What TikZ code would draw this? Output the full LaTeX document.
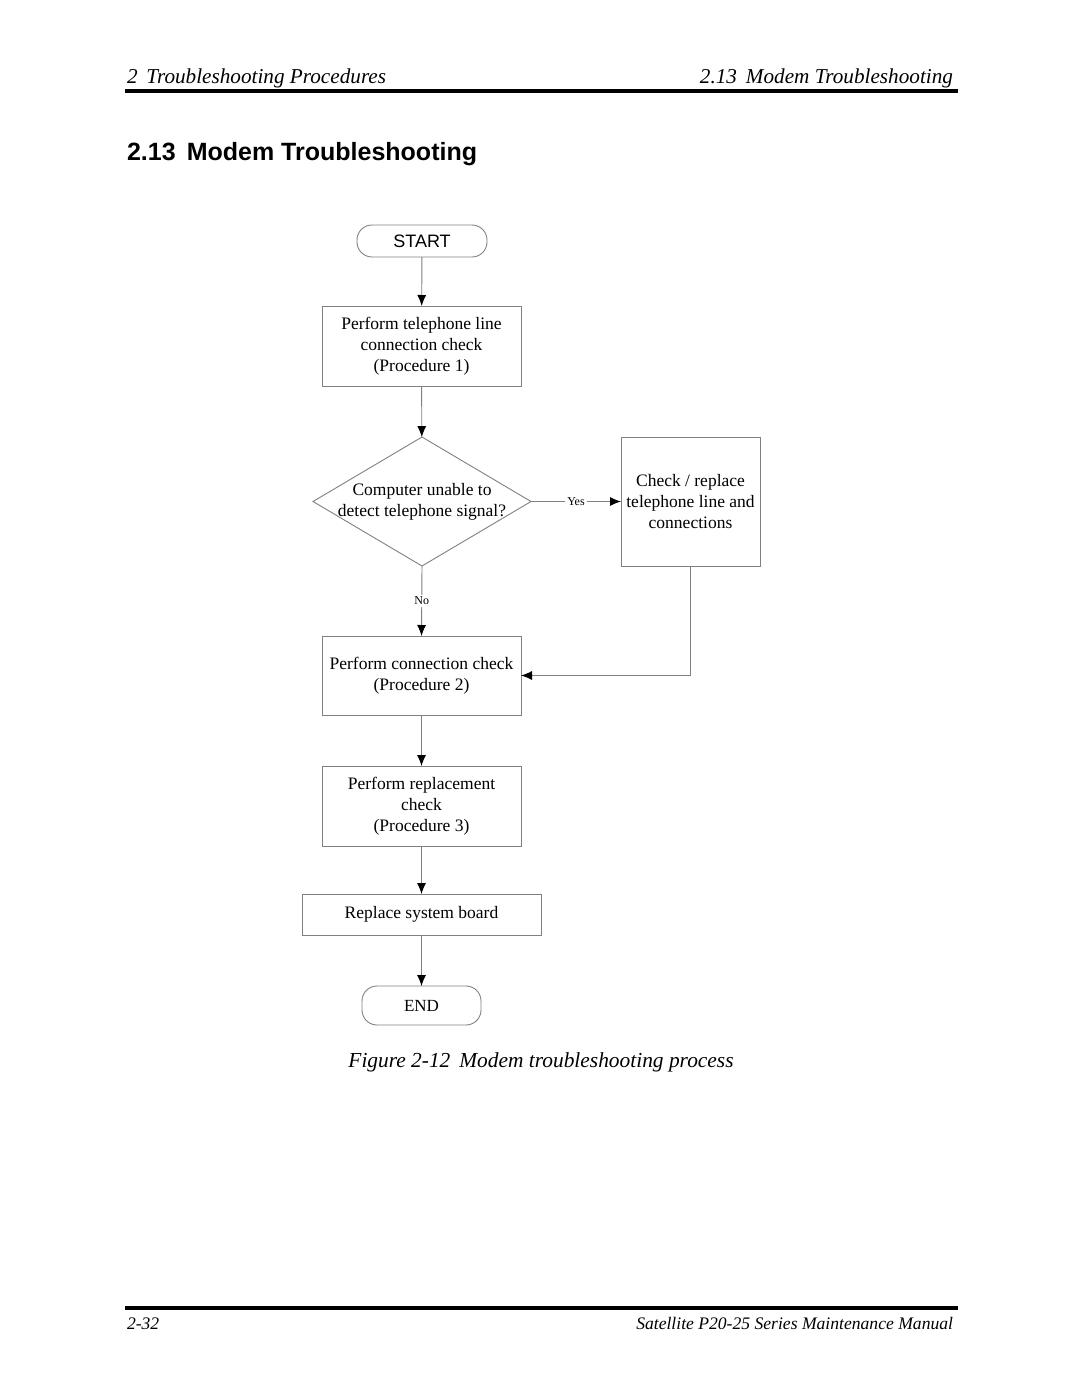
\documentclass[tikz,border=0pt]{standalone}
\usepackage{fontspec}
\setmainfont{Liberation Serif}
\setsansfont{Liberation Sans}
\usetikzlibrary{shapes.geometric,arrows.meta}

\definecolor{edge}{RGB}{128,128,128}

\begin{document}
\begin{tikzpicture}[x=1pt, y=-1pt,
    every node/.style={inner sep=0pt, outer sep=0pt, text=black},
    box/.style={draw=edge, line width=0.9pt, rectangle, align=center,
        font=\fontsize{17.5}{21}\selectfont},
    term/.style={draw=edge, line width=0.9pt, rectangle, rounded corners=15pt},
    flow/.style={draw=edge, line width=0.9pt, -{Latex[length=11pt, width=9pt, color=black]}},
    tag/.style={fill=white, inner sep=2pt, font=\fontsize{12}{13}\selectfont}]
    \useasboundingbox (0, 0) rectangle (1080, 1397);

    % page head
    \node[anchor=base west, font=\fontsize{21.2}{24}\itshape] (headl) at (127, 83) {2\, Troubleshooting Procedures};
    \node[anchor=base east, font=\fontsize{21.2}{24}\itshape] (headr) at (953, 83) {2.13\, Modem Troubleshooting};
    \draw[line width=3.5pt] (125, 91) -- (958, 91);
    \node[anchor=base west, font=\fontsize{25}{28}\sffamily\bfseries] (title) at (127, 160) {2.13\, Modem Troubleshooting};

    % flow chart
    \node[term, minimum width=130, minimum height=32, font=\fontsize{18}{19}\sffamily] (start) at (422, 241) {START};
    \node[box, minimum width=199, minimum height=80] (telcheck) at (421.5, 346) {Perform telephone line\\connection check\\(Procedure 1)};
    \node[draw=edge, line width=0.9pt, diamond, minimum width=218, minimum height=129] (ask) at (422, 501.5) {};
    \node[align=center, font=\fontsize{17.5}{21}\selectfont] (asktext) at (422, 502) {Computer unable to\\detect telephone signal?};
    \node[box, minimum width=139, minimum height=129] (replace) at (690.5, 501.5) {Check / replace\\telephone line and\\connections};
    \node[box, minimum width=199, minimum height=79] (conncheck) at (421.5, 675.5) {Perform connection check\\(Procedure 2)};
    \node[box, minimum width=199, minimum height=80] (replcheck) at (421.5, 806) {Perform replacement\\check\\(Procedure 3)};
    \node[box, minimum width=239, minimum height=41] (board) at (421.5, 914.5) {Replace system board};
    \node[term, minimum width=119, minimum height=39, font=\fontsize{17}{19}\selectfont] (stop) at (421.5, 1005.5) {END};

    \draw[flow] (start) -- (telcheck);
    \draw[flow] (telcheck) -- (ask);
    \draw[flow] (ask.east) -- node[tag] {Yes} (replace.west);
    \draw[flow] (ask.south) -- node[tag] {No} (conncheck.north);
    \draw[flow] (replace.south) |- (conncheck.east);
    \draw[flow] (conncheck) -- (replcheck);
    \draw[flow] (replcheck) -- (board);
    \draw[flow] (board) -- (stop);

    \node[font=\fontsize{21.4}{24}\itshape] (caption) at (541, 1062) {Figure 2-12\, Modem troubleshooting process};

    % page foot
    \draw[line width=3.5pt] (125, 1308) -- (958, 1308);
    \node[anchor=base west, font=\fontsize{17.6}{20}\itshape] (footl) at (127, 1329) {2-32};
    \node[anchor=base east, font=\fontsize{17.6}{20}\itshape] (footr) at (953, 1329) {Satellite P20-25 Series Maintenance Manual};
\end{tikzpicture}
\end{document}
